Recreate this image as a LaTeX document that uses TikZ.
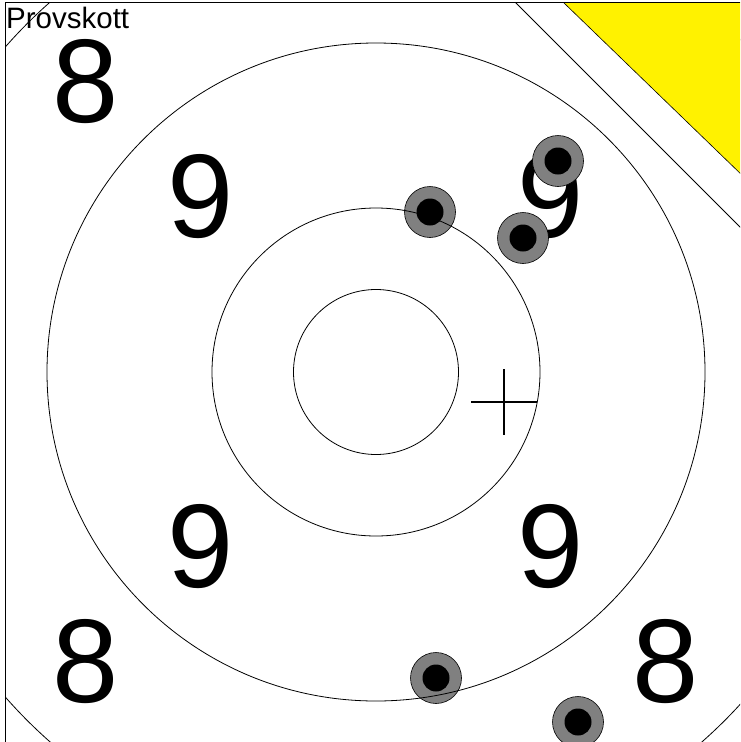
\documentclass[tikz,border=0pt]{standalone}
\usepackage{fontspec}
\setmainfont{Liberation Sans}

\begin{document}
\begin{tikzpicture}[x=1pt, y=-1pt,
  ring/.style={draw=black, line width=0.8pt},
  ringnum/.style={inner sep=0pt, font=\fontsize{119}{119}\selectfont},
  shot/.style={circle, draw=black, fill=gray, line width=0.6pt, minimum size=51pt, inner sep=0pt},
  hole/.style={circle, fill=black, minimum size=27pt, inner sep=0pt}]

  \useasboundingbox (0,0) rectangle (740,742);

  \begin{scope}
  \clip (5,2) rectangle (740,742);
  \coordinate (c) at (376,372);

  % ---- Ring numbers ----
  \node[ringnum] (n9a) at (201,197) {9};
  \node[ringnum] (n9b) at (551,197) {9};
  \node[ringnum] (n9c) at (201,547) {9};
  \node[ringnum] (n9d) at (551,547) {9};
  \node[ringnum] (n8a) at (86,82) {8};
  \node[ringnum] (n8b) at (666,82) {8};
  \node[ringnum] (n8c) at (86,662) {8};
  \node[ringnum] (n8d) at (666,662) {8};

  % ---- Shots ----
  \node[shot] (s1) at (430,212) {};  \node[hole] (s1h) at (s1) {};
  \node[shot] (s2) at (558,161) {};  \node[hole] (s2h) at (s2) {};
  \node[shot] (s3) at (523,238) {};  \node[hole] (s3h) at (s3) {};
  \node[shot] (s4) at (436,678) {};  \node[hole] (s4h) at (s4) {};
  \node[shot] (s5) at (578,722) {};  \node[hole] (s5h) at (s5) {};

  % ---- Rings ----
  \draw[ring] (c) circle (82.5);
  \draw[ring] (c) circle (164);
  \draw[ring] (c) circle (329);
  \draw[ring] (c) circle (493);

  % ---- Aim point ----
  \coordinate (aim) at (504,402);
  \draw[line width=2.7pt] (aim) ++(-33,0) -- ++(66,0);
  \draw[line width=2.7pt] (aim) ++(0,-33) -- ++(0,66);

  % ---- Trial shot corner ----
  \fill[white] (515,2) -- (745,232) -- (745,2) -- cycle;
  \draw[line width=0.8pt] (515,2) -- (745,232);
  \filldraw[fill=yellow, draw=black, line width=0.6pt] (563,2) -- (745,178) -- (745,2) -- cycle;
  \end{scope}

  % ---- Frame ----
  \draw[line width=1pt] (5,742) -- (5,2) -- (740,2);
  \node[anchor=base west, inner sep=0pt, font=\fontsize{29.5}{29.5}\selectfont] (title) at (6,28) {Provskott};

\end{tikzpicture}
\end{document}
